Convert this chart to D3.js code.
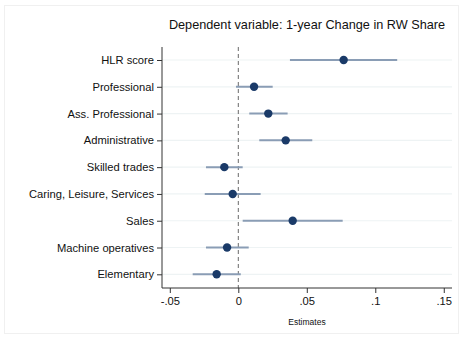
<!DOCTYPE html>
<html>
<head>
<meta charset="utf-8">
<script src="https://cdn.jsdelivr.net/npm/d3@7"></script>
<style>
  html, body { margin: 0; padding: 0; background: #fff; }
  svg { display: block; font-family: "Liberation Sans", Arial, Helvetica, sans-serif; }
</style>
</head>
<body>
<svg id="chart" width="461" height="338"></svg>
<script>
// Coefficient estimates with 95% confidence intervals
const categories = [
  "HLR score", "Professional", "Ass. Professional", "Administrative",
  "Skilled trades", "Caring, Leisure, Services", "Sales",
  "Machine operatives", "Elementary"
];
const estimates = [0.0769, 0.0115, 0.0219, 0.0346, -0.0102, -0.0041, 0.0397, -0.0082, -0.0158];
const ciLower   = [0.0377, -0.0017, 0.0080, 0.0153, -0.0236, -0.0245, 0.0032, -0.0236, -0.0333];
const ciUpper   = [0.1160, 0.0251, 0.0360, 0.0540, 0.0032, 0.0163, 0.0762, 0.0076, 0.0018];
const xTicks = [-0.05, 0, 0.05, 0.1, 0.15];
const xTickLabels = ["-.05", "0", ".05", ".1", ".15"];
const titleText = "Dependent variable: 1-year Change in RW Share";
const xAxisTitle = "Estimates";

const rows = categories.map((c, i) => ({ cat: c, est: estimates[i], lo: ciLower[i], hi: ciUpper[i] }));

const svg = d3.select("#chart");
const plot = { left: 162, right: 452, top: 47, bottom: 288 };

// outer graph region border
svg.append("rect")
  .attr("x", 4.5).attr("y", 5.5).attr("width", 454).attr("height", 328)
  .attr("fill", "none").attr("stroke", "#f0f0f0").attr("stroke-width", 1);

const x = d3.scaleLinear().domain([-0.0557, 0.156]).range([plot.left, plot.right]);
const y = d3.scalePoint().domain(categories).range([60, 274.3]);

// horizontal grid lines at each category
svg.append("g").selectAll("line").data(categories).join("line")
  .attr("x1", plot.left).attr("x2", plot.right)
  .attr("y1", d => y(d)).attr("y2", d => y(d))
  .attr("stroke", "#eef3f4").attr("stroke-width", 1.2);

// reference line at zero
svg.append("line")
  .attr("x1", x(0)).attr("x2", x(0))
  .attr("y1", plot.top).attr("y2", plot.bottom)
  .attr("stroke", "#6a6a6a").attr("stroke-width", 1)
  .attr("stroke-dasharray", "4,3");

// confidence intervals
svg.append("g").selectAll("line").data(rows).join("line")
  .attr("x1", d => x(d.lo)).attr("x2", d => x(d.hi))
  .attr("y1", d => y(d.cat)).attr("y2", d => y(d.cat))
  .attr("stroke", "#8a9db5").attr("stroke-width", 2);

// point estimates
svg.append("g").selectAll("circle").data(rows).join("circle")
  .attr("cx", d => x(d.est)).attr("cy", d => y(d.cat))
  .attr("r", 4.2).attr("fill", "#1a3a68");

// y axis
const yAxis = svg.append("g")
  .attr("transform", `translate(${plot.left},0)`)
  .call(d3.axisLeft(y).tickSize(5).tickPadding(3));
yAxis.select(".domain").attr("d", `M0,${plot.top}V${plot.bottom}`).attr("stroke", "#333");
yAxis.selectAll(".tick line").attr("stroke", "#333");
yAxis.selectAll(".tick text").attr("font-size", 11.2).attr("fill", "#111")
  .attr("font-family", "'Liberation Sans', Arial, sans-serif");

// x axis
const xAxis = svg.append("g")
  .attr("transform", `translate(0,${plot.bottom})`)
  .call(d3.axisBottom(x).tickValues(xTicks).tickFormat((d, i) => xTickLabels[i]).tickSize(5).tickPadding(4));
xAxis.select(".domain").attr("d", `M${plot.left},0H${plot.right}`).attr("stroke", "#333");
xAxis.selectAll(".tick line").attr("stroke", "#333");
xAxis.selectAll(".tick text").attr("font-size", 11.2).attr("fill", "#111")
  .attr("font-family", "'Liberation Sans', Arial, sans-serif");

// x axis title
svg.append("text")
  .attr("x", (plot.left + plot.right) / 2).attr("y", 325)
  .attr("text-anchor", "middle").attr("font-size", 8.5).attr("fill", "#111")
  .text(xAxisTitle);

// title
svg.append("text")
  .attr("x", 307).attr("y", 29)
  .attr("text-anchor", "middle").attr("font-size", 12.7).attr("fill", "#111")
  .text(titleText);
</script>
</body>
</html>
